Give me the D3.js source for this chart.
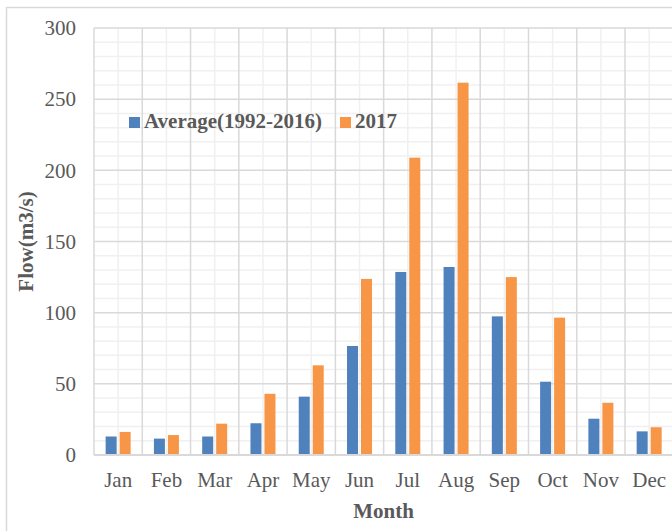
<!DOCTYPE html>
<html>
<head>
<meta charset="utf-8">
<script src="https://cdn.jsdelivr.net/npm/d3@7"></script>
<style>
  body { margin: 0; background: #fff; }
  svg { display: block; font-family: "Liberation Serif", "Times New Roman", serif; }
</style>
</head>
<body>
<div id="chart"></div>
<script>
// monthly flow values
var months = ["Jan", "Feb", "Mar", "Apr", "May", "Jun", "Jul", "Aug", "Sep", "Oct", "Nov", "Dec"];
var seriesNames = ["Average(1992-2016)", "2017"];
var average = [13, 11.5, 13, 22.3, 41, 76.6, 128.6, 132.1, 97.4, 51.5, 25.5, 16.6];
var flow2017 = [16.2, 14, 22, 43, 63, 123.7, 208.9, 261.6, 125, 96.5, 36.7, 19.5];
var yTicks = [0, 50, 100, 150, 200, 250, 300];

var colors = ["#4F81BD", "#F79646"];
var textColor = "#595959";

var width = 672, height = 531;
var plotLeft = 94, plotTop = 28, plotRight = 673.3, plotBottom = 455;

var svg = d3.select("#chart")
	.append("svg")
	.attr("width", width)
	.attr("height", height);

// outer chart border (runs off the right and bottom edge)
svg.append("rect")
	.attr("x", 6.5).attr("y", 7.5)
	.attr("width", 700).attr("height", 560)
	.attr("fill", "#fff")
	.attr("stroke", "#D9D9D9")
	.attr("stroke-width", 1.5);

var x0 = d3.scaleBand()
	.domain(months)
	.range([plotLeft, plotRight]);

var x1 = d3.scaleBand()
	.domain(seriesNames)
	.range([x0.bandwidth() / 2 - 12.5, x0.bandwidth() / 2 + 12.5])
	.paddingInner(0.214);

var y = d3.scaleLinear()
	.domain([0, 300])
	.range([plotBottom, plotTop]);

// horizontal gridlines
var minorY = d3.range(10, 301, 10).filter(function(v) { return v % 50 != 0; });
svg.append("g").selectAll("line")
	.data(minorY)
	.enter().append("line")
	.attr("x1", plotLeft).attr("x2", plotRight)
	.attr("y1", function(d) { return y(d); })
	.attr("y2", function(d) { return y(d); })
	.attr("stroke", "#F0F0F0")
	.attr("stroke-width", 1.5);

// vertical gridlines: minor at category centres, major at boundaries
svg.append("g").selectAll("line")
	.data(months)
	.enter().append("line")
	.attr("x1", function(d) { return x0(d) + x0.bandwidth() / 2; })
	.attr("x2", function(d) { return x0(d) + x0.bandwidth() / 2; })
	.attr("y1", plotTop).attr("y2", plotBottom)
	.attr("stroke", "#F0F0F0")
	.attr("stroke-width", 1.5);

svg.append("g").selectAll("line")
	.data(yTicks.filter(function(v) { return v > 0; }))
	.enter().append("line")
	.attr("x1", plotLeft).attr("x2", plotRight)
	.attr("y1", function(d) { return y(d); })
	.attr("y2", function(d) { return y(d); })
	.attr("stroke", "#D9D9D9")
	.attr("stroke-width", 1.5);

svg.append("g").selectAll("line")
	.data(months.concat(["end"]))
	.enter().append("line")
	.attr("x1", function(d, i) { return plotLeft + i * x0.step(); })
	.attr("x2", function(d, i) { return plotLeft + i * x0.step(); })
	.attr("y1", plotTop).attr("y2", plotBottom)
	.attr("stroke", "#D9D9D9")
	.attr("stroke-width", 1.5);

// bars
var rows = months.map(function(m, i) {
	return { month: m, values: [average[i], flow2017[i]] };
});

var groups = svg.append("g").selectAll("g")
	.data(rows)
	.enter().append("g")
	.attr("transform", function(d) { return "translate(" + x0(d.month) + ",0)"; });

groups.selectAll("rect")
	.data(function(d) {
		return d.values.map(function(v, j) { return { name: seriesNames[j], value: v, j: j }; });
	})
	.enter().append("rect")
	.attr("x", function(d) { return x1(d.name); })
	.attr("width", x1.bandwidth())
	.attr("y", function(d) { return y(d.value); })
	.attr("height", function(d) { return y(0) - y(d.value); })
	.attr("fill", function(d) { return colors[d.j]; });

// x axis line
svg.append("line")
	.attr("x1", plotLeft).attr("x2", plotRight)
	.attr("y1", plotBottom).attr("y2", plotBottom)
	.attr("stroke", "#D9D9D9")
	.attr("stroke-width", 2);

// axes
var yAxis = svg.append("g")
	.attr("transform", "translate(" + plotLeft + ",0)")
	.call(d3.axisLeft(y).tickValues(yTicks).tickSize(0).tickPadding(18));
yAxis.select(".domain").remove();
yAxis.selectAll("text")
	.attr("fill", textColor)
	.style("font-size", "21px")
	.style("font-family", "Liberation Serif");

var xAxis = svg.append("g")
	.attr("transform", "translate(0," + plotBottom + ")")
	.call(d3.axisBottom(x0).tickSize(0).tickPadding(17));
xAxis.select(".domain").remove();
xAxis.selectAll("text")
	.attr("fill", textColor)
	.style("font-size", "21px")
	.style("font-family", "Liberation Serif");

// axis titles
svg.append("text")
	.attr("x", (plotLeft + plotRight) / 2)
	.attr("y", 518)
	.attr("text-anchor", "middle")
	.attr("fill", textColor)
	.style("font-size", "21px")
	.style("font-weight", "bold")
	.text("Month");

svg.append("text")
	.attr("transform", "translate(33," + (plotTop + plotBottom) / 2 + ") rotate(-90)")
	.attr("text-anchor", "middle")
	.attr("fill", textColor)
	.style("font-size", "21px")
	.style("font-weight", "bold")
	.text("Flow(m3/s)");

// legend
var legendX = [129, 340];
var legend = svg.append("g").selectAll("g")
	.data(seriesNames)
	.enter().append("g")
	.attr("transform", function(d, i) { return "translate(" + legendX[i] + ",117)"; });

legend.append("rect")
	.attr("width", 11).attr("height", 11)
	.attr("fill", function(d, i) { return colors[i]; });

legend.append("text")
	.attr("x", 15)
	.attr("y", 11)
	.attr("fill", textColor)
	.style("font-size", "21px")
	.style("font-weight", "bold")
	.text(function(d) { return d; });
</script>
</body>
</html>
